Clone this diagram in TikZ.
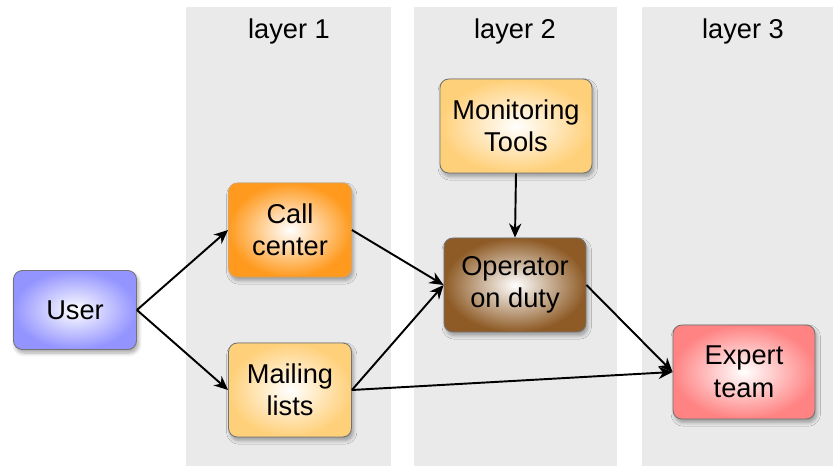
\documentclass[tikz,border=0pt]{standalone}
\usepackage{fontspec}
\setmainfont{Liberation Sans}
\usetikzlibrary{arrows.meta,shadows.blur}
\definecolor{bandgray}{HTML}{EAEAEA}
\definecolor{userblue}{HTML}{9494FF}
\definecolor{callorange}{HTML}{FF9A1E}
\definecolor{lightorange}{HTML}{FFD07A}
\definecolor{opbrown}{HTML}{8E5B26}
\definecolor{expertred}{HTML}{FF8383}
\begin{document}
\begin{tikzpicture}[x=0.02cm,y=-0.02cm,font=\fontsize{15.5}{18.5}\selectfont]
		\tikzstyle{band}=[fill=bandgray,draw=none]
		\tikzstyle{box}=[rectangle,rounded corners=5pt,draw=black!55,line width=0.5pt,align=center,
			minimum width=2.46cm,minimum height=1.88cm,blur shadow={shadow blur steps=6,shadow xshift=1pt,shadow yshift=-2pt,shadow opacity=35}]
		\tikzstyle{edge}=[draw=black,line width=1.1pt,-{Stealth[length=8pt,width=7pt]}]

		\useasboundingbox (0,0) rectangle (833,466);

		% the three layers
		\fill[band] (186,7) rectangle (391,466);
		\fill[band] (414,7) rectangle (617,466);
		\fill[band] (642,7) rectangle (833,466);
		\node (l1) at (289,31) {layer 1};
		\node (l2) at (515,31) {layer 2};
		\node (l3) at (743,31) {layer 3};

		 \node [box,inner color=white,outer color=userblue,minimum height=1.58cm] (user) at (75,310) {User};
		 \node [box,inner color=white,outer color=callorange,draw=callorange!80!black!70] (call) at (290,230) {Call\\center};
		 \node [box,inner color=white,outer color=lightorange] (mail) at (290,390) {Mailing\\lists};
		 \node [box,inner color=white,outer color=lightorange,minimum width=3.04cm] (mon) at (516,126) {Monitoring\\Tools};
		 \node [box,inner color=white,outer color=opbrown,minimum width=2.84cm] (op) at (515,285) {Operator\\on duty};
		 \node [box,inner color=white,outer color=expertred,minimum width=2.84cm] (expert) at (744,372) {Expert\\team};

		 \path[edge] (user.east) -- (call.west);
		 \path[edge] (user.east) -- (mail.west);
		 \path[edge] (call.east) -- (op.west);
		 \path[edge] (mail.east) -- (op.west);
		 \path[edge] (mail.east) -- (expert.west);
		 \path[edge] (mon.south) -- (op.north);
		 \path[edge] (op.east) -- (expert.west);

	\end{tikzpicture}
\end{document}
